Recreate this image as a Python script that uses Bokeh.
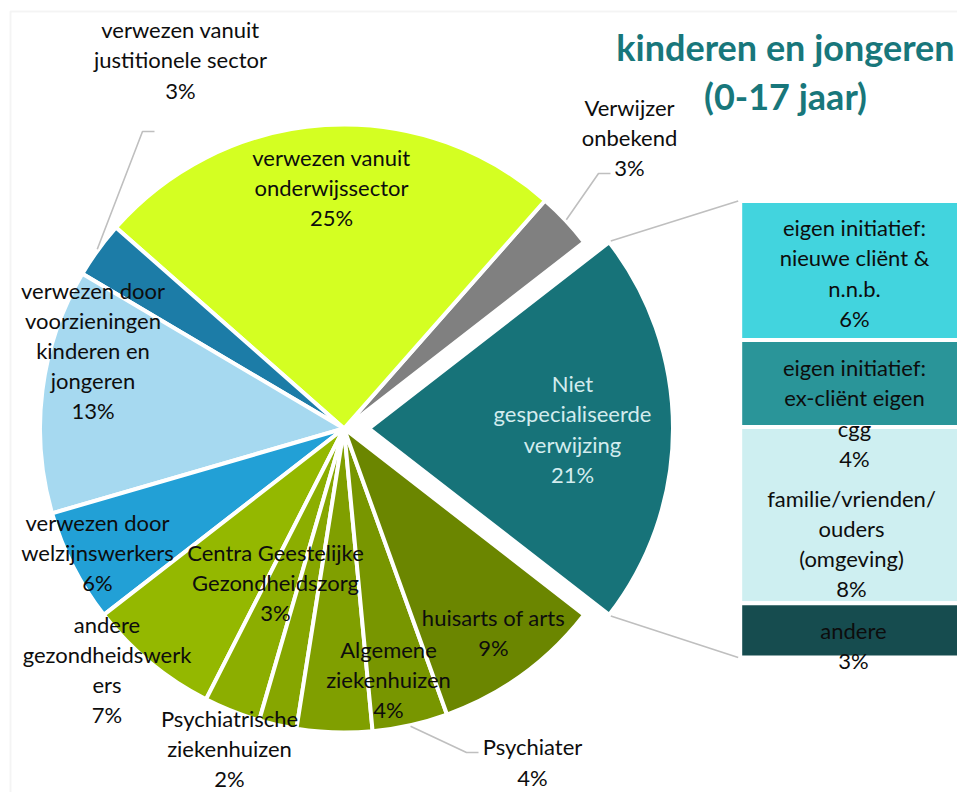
import math
from bokeh.plotting import figure
from bokeh.models import Range1d, ColumnDataSource, BoxAnnotation
from bokeh.core.properties import value
from bokeh.embed import file_html
from bokeh.resources import INLINE

# ---------------- data ----------------
pie_labels = [
    "Niet\ngespecialiseerde\nverwijzing",
    "Verwijzer\nonbekend",
    "verwezen vanuit\nonderwijssector",
    "verwezen vanuit\njustitionele sector",
    "verwezen door\nvoorzieningen\nkinderen en\njongeren",
    "verwezen door\nwelzijnswerkers",
    "andere\ngezondheidswerk\ners",
    "Centra Geestelijke\nGezondheidszorg",
    "Psychiatrische\nziekenhuizen",
    "Algemene\nziekenhuizen",
    "Psychiater",
    "huisarts of arts",
]
pie_values = [21, 3, 25, 3, 13, 6, 7, 3, 2, 4, 4, 9]
pie_colors = ["#177379", "#808080", "#d4ff22", "#1c7ca7", "#a6d9f0", "#22a0d6",
              "#94b800", "#8cae00", "#86a600", "#809f00", "#789600", "#6b8600"]

bar_labels = ["eigen initiatief:\nnieuwe cliënt &\nn.n.b.",
              "eigen initiatief:\nex-cliënt eigen\ncgg",
              "familie/vrienden/\nouders\n(omgeving)",
              "andere"]
bar_values = [6.4, 4.0, 8.1, 2.5]
bar_colors = ["#42d4de", "#2a9599", "#ceeff1", "#164c4f"]

title_text = "kinderen en jongeren\n(0-17 jaar)"

# ---------------- layout ----------------
W, H = 957, 792
def X(rx): return rx
def Y(ry): return H - ry

FONT = "Lato"
FS = 22
LH = 29.4 / (FS * 1.2)
TXT = "#0d0d0d"
LEAD = "#bfbfbf"

p = figure(width=W, height=H, x_range=Range1d(0, W), y_range=Range1d(0, H),
           output_backend="svg", toolbar_location=None, min_border=0,
           x_axis_location=None, y_axis_location=None,
           outline_line_color=None, background_fill_color="white",
           border_fill_color="white")
p.grid.visible = False

# chart frame
p.add_layout(BoxAnnotation(left=X(10), right=W + 20, top=Y(11), bottom=-20,
                           fill_alpha=0, line_color="#d9d9d9", line_width=2))

# ---------------- pie ----------------
CX, CY, R, EXPLODE = X(343.5), Y(428), 304, 25
total = sum(pie_values)
a = -pie_values[0] / total * math.pi
xs, ys, st, en, mids = [], [], [], [], []
for i, v in enumerate(pie_values):
    s = a
    e = a + v / total * 2 * math.pi
    m = (s + e) / 2
    off = EXPLODE if i == 0 else 0
    xs.append(CX + off * math.cos(m))
    ys.append(CY + off * math.sin(m))
    st.append(s); en.append(e); mids.append(m)
    a = e
p.wedge(x="x", y="y", radius=R, start_angle="s", end_angle="e",
        fill_color="c", line_color="white", line_width=4,
        source=ColumnDataSource(dict(x=xs, y=ys, s=st, e=en, c=pie_colors)))

# ---------------- bar of pie ----------------
BAR_TOP, BAR_BOT = Y(200.5), Y(657)
btotal = sum(bar_values)
sc = btotal / (BAR_TOP - BAR_BOT)
p0 = -BAR_BOT * sc
p.extra_y_ranges = {"bar": Range1d(p0, p0 + H * sc)}
bottoms, tops = [], []
for i, v in enumerate(bar_values):
    b = sum(bar_values[i + 1:])
    bottoms.append(b); tops.append(b + v)
BAR_L, BAR_R = X(739.7), X(966)
p.quad(left=BAR_L, right=BAR_R, bottom="b", top="t", fill_color="c",
       line_color="white", line_width=4, y_range_name="bar",
       source=ColumnDataSource(dict(b=bottoms, t=tops, c=bar_colors)))

# connector lines from exploded slice to bar
tx, ty = xs[0], ys[0]
for ang, by in ((en[0], BAR_TOP), (st[0], BAR_BOT)):
    sx = tx + (R + 2) * math.cos(ang)
    sy = ty + (R + 2) * math.sin(ang)
    p.line([sx, BAR_L - 2], [sy, by], line_color=LEAD, line_width=1.6)

# leader lines for outside labels: slice index -> elbow, end (reference px)
leaders = {3: ((142, 131), (154, 131)),
           1: ((598, 173), (610, 173)),
           10: ((466, 752), (478, 752))}
for i, (elb, end) in leaders.items():
    sx = CX + (R + 1) * math.cos(mids[i])
    sy = CY + (R + 1) * math.sin(mids[i])
    p.line([sx, X(elb[0]), X(end[0])], [sy, Y(elb[1]), Y(end[1])],
           line_color=LEAD, line_width=1.6)

# ---------------- labels ----------------
def pct(v):
    return f"{int(v + 0.5)}%"

label_pos = [(572, 428.5), (629, 137), (331, 187), (180, 59.5), (92.5, 350.3),
             (97, 552), (106.5, 669), (275, 581.7), (229, 748), (388, 679.3),
             (532, 761.5), (493, 632)]
lx = [X(q[0]) for q in label_pos]
ly = [Y(q[1]) for q in label_pos]
lt = [f"{lab}\n{pct(v)}" for lab, v in zip(pie_labels, pie_values)]
lc = ["#d3ecee"] + [TXT] * (len(pie_values) - 1)
p.text(x="x", y="y", text="t", text_color="c", text_font=value(FONT),
       text_font_size=value(f"{FS}px"), text_align="center",
       text_baseline="middle", text_line_height=LH,
       source=ColumnDataSource(dict(x=lx, y=ly, t=lt, c=lc)))

bar_label_pos = [(854, 272.5), (854, 412.5), (851, 543.3), (853, 645)]
p.text(x=[X(q[0]) for q in bar_label_pos], y=[Y(q[1]) for q in bar_label_pos],
       text=[f"{lab}\n{pct(v)}" for lab, v in zip(bar_labels, bar_values)],
       text_color=TXT, text_font=value(FONT), text_font_size=value(f"{FS}px"),
       text_align="center", text_baseline="middle", text_line_height=LH)

# title
TFS = 36
p.text(x=[X(785)], y=[Y(71)], text=[title_text], text_color="#18777b",
       text_font=value(FONT), text_font_style="bold",
       text_font_size=value(f"{TFS}px"), text_align="center",
       text_baseline="middle", text_line_height=49 / (TFS * 1.2))

open("out.html", "w").write(file_html(p, INLINE))
